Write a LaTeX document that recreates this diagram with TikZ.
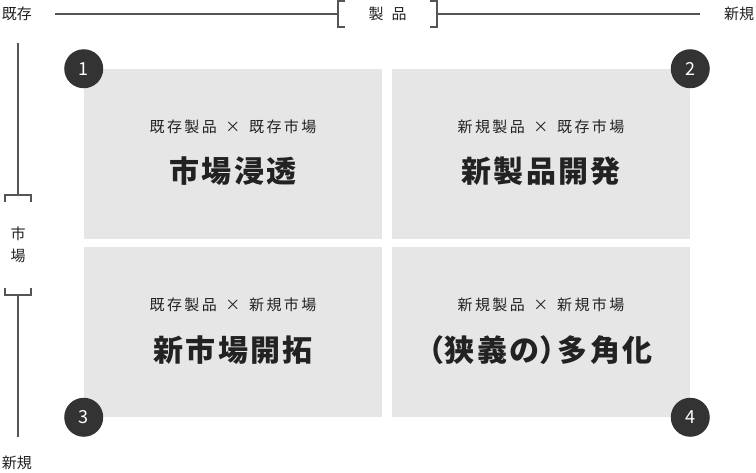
\documentclass[tikz,border=0pt]{standalone}
\usepackage{fontspec}
\setmainfont{Noto Sans CJK JP}
\definecolor{boxgray}{HTML}{E6E6E6}
\definecolor{circ}{HTML}{333333}
\definecolor{linec}{HTML}{555555}
\definecolor{txt}{HTML}{222222}
\begin{document}
\begin{tikzpicture}[x=0.75pt,y=-0.75pt,
  quad/.style={fill=boxgray,draw=none,minimum width=223.5pt,minimum height=127.5pt,inner sep=0pt},
  num/.style={circle,fill=circ,draw=none,minimum size=29.25pt,inner sep=0pt,text=white,font=\fontsize{13.5}{14}\selectfont},
  small/.style={text=txt,inner sep=0pt,font=\fontsize{11.25}{12}\selectfont\addfontfeatures{LetterSpace=16}},
  big/.style={text=txt,inner sep=0pt,font=\fontsize{22.5}{24}\selectfont\bfseries\addfontfeatures{LetterSpace=7}},
  axlbl/.style={text=txt,inner sep=0pt,font=\fontsize{11.25}{12}\selectfont},
  axis/.style={draw=linec,line width=1.5pt}]
\useasboundingbox (0,0) rectangle (756,472);
% quadrants
\node[quad] (q1) at (233,154) {};
\node[quad] (q2) at (541,154) {};
\node[quad] (q3) at (233,332) {};
\node[quad] (q4) at (541,332) {};
% texts
\node[small] (s1) at (233,127) {既存製品\hspace{6.5pt}×\hspace{6.5pt}既存市場};
\node[big] (b1) at (233,171) {市場浸透};
\node[small] (s2) at (541,127) {新規製品\hspace{6.5pt}×\hspace{6.5pt}既存市場};
\node[big] (b2) at (541,171) {新製品開発};
\node[small] (s3) at (233,305) {既存製品\hspace{6.5pt}×\hspace{6.5pt}新規市場};
\node[big] (b3) at (233,350) {新市場開拓};
\node[small] (s4) at (541,305) {新規製品\hspace{6.5pt}×\hspace{6.5pt}新規市場};
\node[big] (b4) at (540,350) {\addfontfeatures{RawFeature=+palt}（狭義の）多角化};
% circles
\node[num] (c1) at (q1.north west) {1};
\node[num] (c2) at (q2.north east) {2};
\node[num] (c3) at (q3.south west) {3};
\node[num] (c4) at (q4.south east) {4};
% top axis
\node[axlbl] (xl) at (17,14) {既存};
\node[axlbl] (xr) at (739,14) {新規};
\node[axlbl] (xp) at (387.5,14) {製\hspace{6pt}品};
\coordinate (ta) at (55,14);
\coordinate (tb) at (338,14);
\coordinate (tc) at (437,14);
\coordinate (td) at (700,14);
\draw[axis] (ta) -- (tb);
\draw[axis] (tc) -- (td);
\draw[axis] (345,1) -- (338,1) -- (338,27) -- (345,27);
\draw[axis] (430,1) -- (437,1) -- (437,27) -- (430,27);
% left axis
\node[axlbl] (yt) at (17,463) {新規};
\node[axlbl,align=center,font=\fontsize{11.25}{16.5}\selectfont] (ym) at (18,245) {市\\場};
\coordinate (la) at (18,43);
\coordinate (lb) at (18,195);
\coordinate (lc) at (18,295);
\coordinate (ld) at (18,437);
\draw[axis] (la) -- (lb);
\draw[axis] (lc) -- (ld);
\draw[axis] (5,202) -- (5,195) -- (31,195) -- (31,202);
\draw[axis] (5,288) -- (5,295) -- (31,295) -- (31,288);
\end{tikzpicture}
\end{document}
